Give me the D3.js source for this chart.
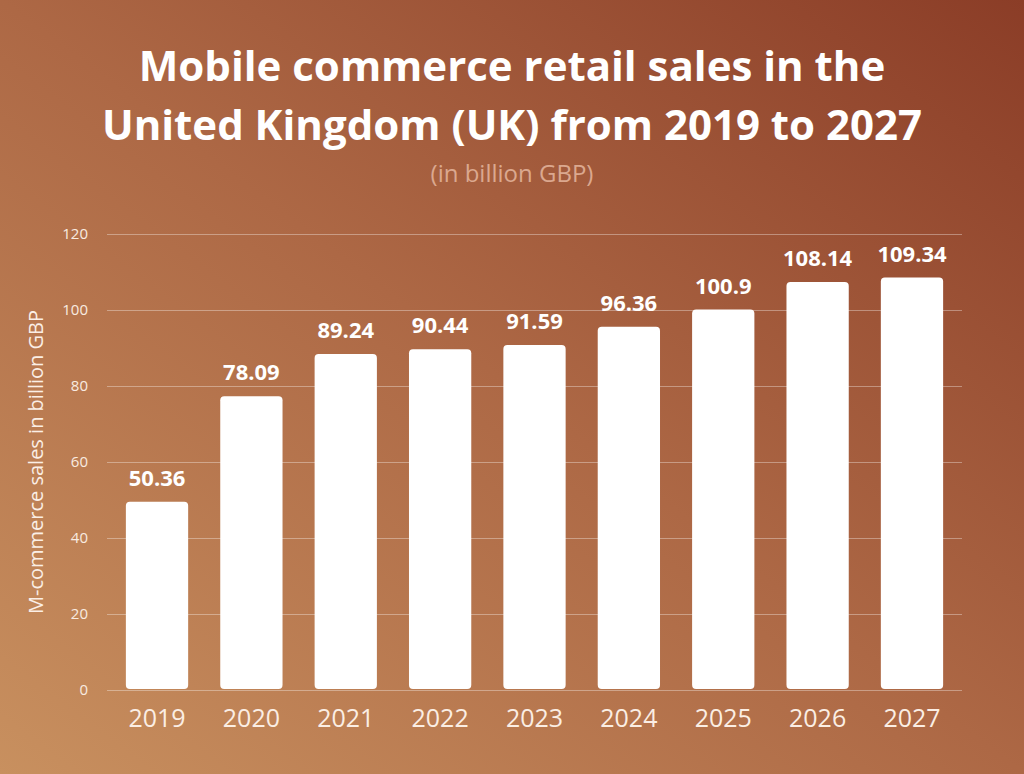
<!DOCTYPE html>
<html>
<head>
<meta charset="utf-8">
<script src="https://cdn.jsdelivr.net/npm/d3@7"></script>
<style>
  html, body { margin: 0; padding: 0; }
  body { width: 1024px; height: 774px; overflow: hidden; }
  svg { display: block; font-family: "Open Sans", "Noto Sans", sans-serif; }
</style>
</head>
<body>
<svg id="chart" width="1024" height="774"></svg>
<script>
var years = ["2019", "2020", "2021", "2022", "2023", "2024", "2025", "2026", "2027"];
var sales = [50.36, 78.09, 89.24, 90.44, 91.59, 96.36, 100.9, 108.14, 109.34];
var yTicks = [0, 20, 40, 60, 80, 100, 120];

var width = 1024, height = 774;
var margin = {top: 234, right: 62, bottom: 84, left: 107};

var svg = d3.select("#chart");

// background gradient, light bottom-left to dark top-right
var defs = svg.append("defs");
var grad = defs.append("linearGradient")
  .attr("id", "bg")
  .attr("x1", "0%").attr("y1", "100%")
  .attr("x2", "100%").attr("y2", "0%");
grad.append("stop").attr("offset", "0%").attr("stop-color", "#c8905f");
grad.append("stop").attr("offset", "50%").attr("stop-color", "#ad6845");
grad.append("stop").attr("offset", "100%").attr("stop-color", "#8b3d27");

svg.append("rect")
  .attr("width", width)
  .attr("height", height)
  .attr("fill", "url(#bg)");

var x = d3.scaleBand()
  .domain(years)
  .range([margin.left, width - margin.right])
  .paddingInner(0.34)
  .paddingOuter(0.2);

var y = d3.scaleLinear()
  .domain([0, 120])
  .range([height - margin.bottom, margin.top]);

// titles
svg.append("text")
  .attr("x", width / 2)
  .attr("y", 81)
  .attr("text-anchor", "middle")
  .attr("fill", "#ffffff")
  .style("font-size", "42px")
  .style("font-weight", "700")
  .text("Mobile commerce retail sales in the");

svg.append("text")
  .attr("x", width / 2)
  .attr("y", 140)
  .attr("text-anchor", "middle")
  .attr("fill", "#ffffff")
  .style("font-size", "42px")
  .style("font-weight", "700")
  .text("United Kingdom (UK) from 2019 to 2027");

svg.append("text")
  .attr("x", width / 2)
  .attr("y", 182)
  .attr("text-anchor", "middle")
  .attr("fill", "#dba88f")
  .style("font-size", "24px")
  .text("(in billion GBP)");

// gridlines
var yAxis = d3.axisLeft(y)
  .tickValues(yTicks)
  .tickSize(-(width - margin.right - margin.left))
  .tickPadding(19);

var gy = svg.append("g")
  .attr("transform", "translate(" + margin.left + ",0)")
  .call(yAxis);
gy.select(".domain").remove();
gy.selectAll(".tick line")
  .attr("stroke", "#ffffff")
  .attr("stroke-opacity", 0.35);
gy.selectAll(".tick text")
  .attr("fill", "#f9ebe0")
  .style("font-size", "15px")
  .style("font-family", "'Open Sans', sans-serif");

svg.append("text")
  .attr("transform", "translate(43," + y(60) + ") rotate(-90)")
  .attr("text-anchor", "middle")
  .attr("fill", "#fbefe6")
  .style("font-size", "20px")
  .text("M-commerce sales in billion GBP");

// bars
var data = years.map(function(d, i) { return {year: d, value: sales[i]}; });

svg.selectAll(".bar")
  .data(data)
  .enter().append("rect")
  .attr("class", "bar")
  .attr("x", function(d) { return x(d.year); })
  .attr("y", function(d) { return y(d.value) + 3; })
  .attr("width", x.bandwidth())
  .attr("height", function(d) { return y(0) - y(d.value) - 4; })
  .attr("rx", 4)
  .attr("fill", "#ffffff");

svg.selectAll(".val")
  .data(data)
  .enter().append("text")
  .attr("class", "val")
  .attr("x", function(d) { return x(d.year) + x.bandwidth() / 2; })
  .attr("y", function(d) { return y(d.value) - 13; })
  .attr("text-anchor", "middle")
  .attr("fill", "#ffffff")
  .style("font-size", "22px")
  .style("font-weight", "700")
  .text(function(d) { return d.value; });

// x axis labels
var xAxis = d3.axisBottom(x).tickSize(0).tickPadding(19);
var gx = svg.append("g")
  .attr("transform", "translate(0," + y(0) + ")")
  .call(xAxis);
gx.select(".domain").remove();
gx.selectAll(".tick text")
  .attr("fill", "#fbeee4")
  .style("font-size", "25px")
  .style("font-family", "'Open Sans', sans-serif");
</script>
</body>
</html>
